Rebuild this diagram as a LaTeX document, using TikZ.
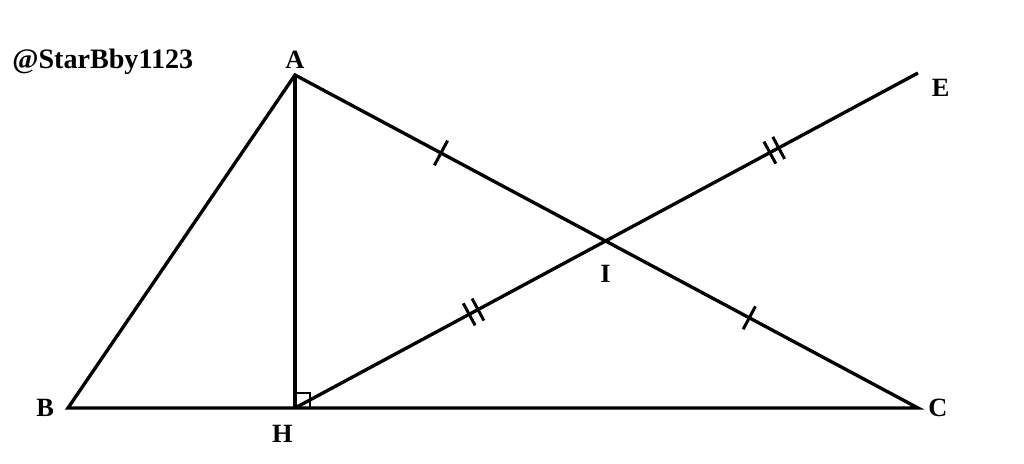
\documentclass[tikz,border=0pt]{standalone}
\usepackage{fontspec}
\setmainfont{Liberation Serif}
\usepackage{tikz}
\usetikzlibrary{calc, positioning}

\begin{document}
\begin{tikzpicture}[line width=1.9pt, font=\fontsize{15}{18}\selectfont\bfseries]
\tikzstyle{lbl} = [inner sep=1pt]
\tikzstyle{tick} = [line width=1.7pt]

\useasboundingbox (0,0) rectangle (20.48,9.28);

\coordinate (A) at (5.90,7.78);
\coordinate (B) at (1.36,1.12);
\coordinate (H) at (5.90,1.12);
\coordinate (C) at (18.36,1.12);
\coordinate (E) at (18.36,7.82);
\coordinate (I) at (intersection of A--C and H--E);

\draw (A) -- (B) -- (C) -- cycle;
\draw (A) -- (H);
\draw (H) -- (E);

% right angle at H
\draw[line width=1.5pt] ($(H)+(0,0.3)$) -- ++(0.3,0) -- ++(0,-0.3);

% single ticks on AI and IC
\coordinate (mAI) at ($(A)!0.47!(I)$);
\coordinate (mIC) at ($(I)!0.46!(C)$);
\draw[tick] ($(mAI)!0.28cm!90:(I)$) -- ($(mAI)!0.28cm!-90:(I)$);
\draw[tick] ($(mIC)!0.26cm!90:(C)$) -- ($(mIC)!0.26cm!-90:(C)$);

% double ticks on HI and IE
\coordinate (mHI) at ($(H)!0.575!(I)$);
\coordinate (mIE) at ($(I)!0.54!(E)$);
\foreach \d in {-0.1cm,0.1cm} {
  \coordinate (p) at ($(mHI)!\d!(I)$);
  \draw[tick] ($(p)!0.25cm!90:(I)$) -- ($(p)!0.25cm!-90:(I)$);
  \coordinate (q) at ($(mIE)!\d!(E)$);
  \draw[tick] ($(q)!0.25cm!90:(E)$) -- ($(q)!0.25cm!-90:(E)$);
}

\node[lbl, above=2pt of A] (labA) {A};
\node[lbl, left=6pt of B] (labB) {B};
\node[lbl, below=8pt of H, xshift=-0.25cm] (labH) {H};
\node[lbl, right=4pt of C] (labC) {C};
\node[lbl, below=12pt of I] (labI) {I};
\node[lbl, right=6pt of E, yshift=-0.3cm] (labE) {E};
\node[lbl, anchor=west, font=\fontsize{16}{19}\selectfont\bfseries] (mark) at (0.18,8.04) {@StarBby1123};
\end{tikzpicture}
\end{document}
